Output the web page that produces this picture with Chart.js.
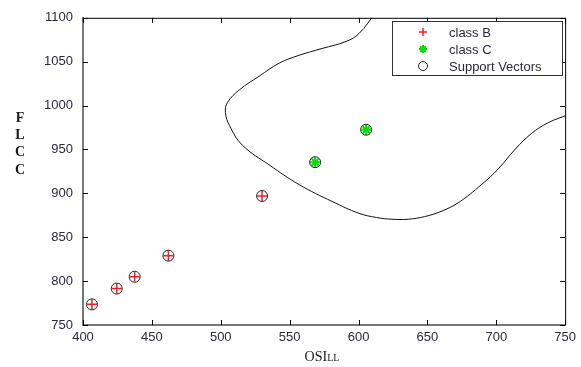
<!DOCTYPE html>
<html>
<head>
<meta charset="utf-8">
<script src="https://cdn.jsdelivr.net/npm/chart.js@4"></script>
<style>
  body { margin: 0; background: #fff; }
  #wrap { width: 581px; height: 367px; position: relative; }
</style>
</head>
<body>
<div id="wrap"><canvas id="svmChart"></canvas></div>
<script>
// tick values
const xTicks = [400, 450, 500, 550, 600, 650, 700, 750];
const yTicks = [750, 800, 850, 900, 950, 1000, 1050, 1100];

// class B samples (red +)
const classBX = [406.5, 424.5, 437.5, 462, 530];
const classBY = [773.5, 791.5, 805, 829, 897];

// class C samples (green *)
const classCX = [568.5, 605.5];
const classCY = [935.5, 972.5];

// decision boundary
const boundaryX = [612, 600.3, 590.9, 573.5, 556.9, 542.4, 528, 513.5, 504.8, 503.4, 506.3, 515.7, 535.2, 556.9, 580.8, 600.3, 613, 624.2, 636, 648, 660, 672.6, 689.2, 701.5, 713.8, 725.4, 737.7, 752];
const boundaryY = [1105, 1082, 1073, 1065, 1057.3, 1048.3, 1033.6, 1017.9, 1003.3, 992, 977.4, 954.9, 932.4, 909.9, 890.8, 877.3, 872.5, 870.5, 870.5, 873.5, 879.5, 889.5, 909.9, 927.9, 950.4, 968, 980.5, 989.5];

const legendLabels = ["class B", "class C", "Support Vectors"];

const toPoints = (xs, ys) => xs.map((x, i) => ({ x: x, y: ys[i] }));

// every sample is a support vector here
const svX = classBX.concat(classCX);
const svY = classBY.concat(classCY);

const tickFont = { family: "'Liberation Sans', Arial, sans-serif", size: 13 };

// matlab-ish frame: inward ticks on all four sides, legend box, axis titles
const framePlugin = {
  id: "frame",
  afterDraw(chart) {
    const { ctx, chartArea: a, scales } = chart;
    ctx.save();

    // top and right edges
    ctx.strokeStyle = "#000";
    ctx.lineWidth = 1;
    ctx.beginPath();
    ctx.moveTo(a.left, a.top + 0.5);
    ctx.lineTo(a.right + 0.5, a.top + 0.5);
    ctx.lineTo(a.right + 0.5, a.bottom);
    ctx.stroke();

    ctx.beginPath();
    xTicks.forEach(v => {
      const px = Math.round(scales.x.getPixelForValue(v)) + 0.5;
      ctx.moveTo(px, a.bottom); ctx.lineTo(px, a.bottom - 5);
      ctx.moveTo(px, a.top); ctx.lineTo(px, a.top + 5);
    });
    yTicks.forEach(v => {
      const py = Math.round(scales.y.getPixelForValue(v)) + 0.5;
      ctx.moveTo(a.left, py); ctx.lineTo(a.left + 5, py);
      ctx.moveTo(a.right, py); ctx.lineTo(a.right - 5, py);
    });
    ctx.stroke();

    // legend box
    const lx = 392, ly = 21, lw = 170, lh = 54;
    ctx.fillStyle = "#fff";
    ctx.fillRect(lx, ly, lw, lh);
    ctx.strokeStyle = "#333";
    ctx.strokeRect(lx + 0.5, ly + 0.5, lw, lh);
    const rows = [32, 49, 66];
    const ds = chart.data.datasets;
    [1, 2, 3].forEach((di, i) => {
      const d = ds[di];
      ctx.strokeStyle = d.borderColor;
      ctx.fillStyle = "rgba(0,0,0,0)";
      ctx.lineWidth = d.borderWidth;
      Chart.helpers.drawPoint(ctx, {
        pointStyle: d.pointStyle, radius: d.pointRadius - 1,
        borderWidth: d.borderWidth, rotation: 0
      }, 423, rows[i]);
      ctx.fillStyle = "#2a2a3a";
      ctx.font = "13px 'Liberation Sans', Arial, sans-serif";
      ctx.textBaseline = "middle";
      ctx.textAlign = "left";
      ctx.fillText(legendLabels[i], 449, rows[i] + 1);
    });

    // y title, stacked letters
    ctx.fillStyle = "#1a1a1a";
    ctx.font = "bold 14px 'Liberation Serif', 'Times New Roman', serif";
    ctx.textAlign = "center";
    ctx.textBaseline = "middle";
    ["F", "L", "C", "C"].forEach((ch, i) => ctx.fillText(ch, 20, 118 + i * 17.3));

    // x title OSI + small caps LL
    ctx.textAlign = "left";
    ctx.textBaseline = "alphabetic";
    const bigFont = "14px 'Liberation Serif', 'Times New Roman', serif";
    const smallFont = "10px 'Liberation Serif', 'Times New Roman', serif";
    ctx.font = bigFont;
    const wBig = ctx.measureText("OSI").width;
    ctx.font = smallFont;
    const wSmall = ctx.measureText("LL").width;
    const sx = 322 - (wBig + wSmall) / 2;
    ctx.font = bigFont;
    ctx.fillText("OSI", sx, 361);
    ctx.font = smallFont;
    ctx.fillText("LL", sx + wBig, 361);

    ctx.restore();
  }
};

new Chart(document.getElementById("svmChart"), {
  type: "scatter",
  data: {
    datasets: [
      {
        label: "boundary",
        data: toPoints(boundaryX, boundaryY),
        showLine: true,
        pointRadius: 0,
        borderColor: "#111",
        borderWidth: 1,
        tension: 0.4,
        order: 4
      },
      {
        label: legendLabels[0],
        data: toPoints(classBX, classBY),
        pointStyle: "cross",
        pointRadius: 5,
        borderColor: "#ff1a1a",
        borderWidth: 1.5,
        order: 2
      },
      {
        label: legendLabels[1],
        data: toPoints(classCX, classCY),
        pointStyle: "star",
        pointRadius: 5,
        borderColor: "#00e000",
        borderWidth: 2,
        order: 2
      },
      {
        label: legendLabels[2],
        data: toPoints(svX, svY),
        pointStyle: "circle",
        pointRadius: 5.5,
        backgroundColor: "rgba(0,0,0,0)",
        borderColor: "#222",
        borderWidth: 1,
        order: 1
      }
    ]
  },
  options: {
    responsive: true,
    maintainAspectRatio: false,
    animation: false,
    layout: { padding: { top: 14, right: 14, left: 0, bottom: 0 } },
    plugins: {
      legend: { display: false },
      tooltip: { enabled: false }
    },
    scales: {
      x: {
        min: 400,
        max: 750,
        afterBuildTicks: s => { s.ticks = xTicks.map(v => ({ value: v })); },
        afterFit: s => { s.height = 42; },
        grid: { drawOnChartArea: false, drawTicks: false },
        border: { color: "#777", width: 2 },
        ticks: { font: tickFont, color: "#2a2a3a", padding: 5, maxRotation: 0, callback: v => String(v) }
      },
      y: {
        min: 750,
        max: 1100,
        afterBuildTicks: s => { s.ticks = yTicks.map(v => ({ value: v })); },
        afterFit: s => { s.width = 83; },
        grid: { drawOnChartArea: false, drawTicks: false },
        border: { color: "#777", width: 2 },
        ticks: { font: tickFont, color: "#2a2a3a", padding: 10, callback: v => String(v) }
      }
    }
  },
  plugins: [framePlugin]
});
</script>
</body>
</html>
